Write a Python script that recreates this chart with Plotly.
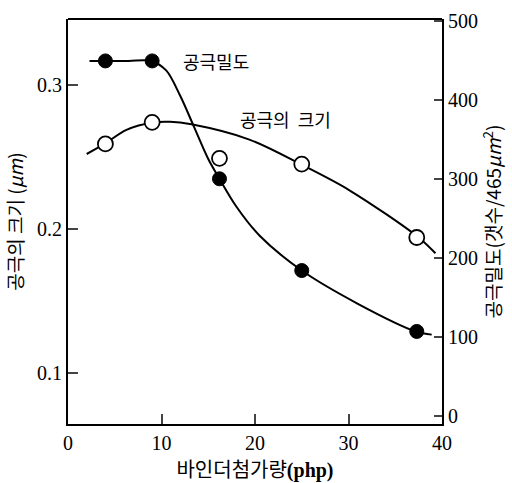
import plotly.graph_objects as go

# ---- data ----
binder_php = [4.0, 9.0, 16.2, 25.0, 37.3]           # 바인더첨가량 (php)
pore_density = [449, 449, 300, 184, 107]            # 공극밀도 (갯수/465μm²)
pore_size = [0.259, 0.274, 0.249, 0.245, 0.194]     # 공극의 크기 (μm)

density_curve_x = [2.3, 4.1, 6.5, 8.9, 10.5, 12.0, 13.5, 15.0, 16.2, 18.0, 20.5, 25.0, 31.0, 37.2, 38.9]
density_curve_y = [449, 449, 449, 449, 437, 405, 365, 325, 300, 265, 228, 184, 142, 107, 103]

size_curve_x = [2.0, 3.9, 6.25, 9.1, 10.9, 13.2, 19.4, 25.0, 30.1, 37.5, 39.3]
size_curve_y = [0.252, 0.259, 0.2688, 0.2739, 0.2744, 0.2726, 0.262, 0.2445, 0.2268, 0.194, 0.183]

x_ticks = [0, 10, 20, 30, 40]
left_ticks = [0.1, 0.2, 0.3]
right_ticks = [0, 100, 200, 300, 400, 500]

KR = "Noto Sans CJK KR"
SERIF = "Liberation Serif"

fig = go.Figure()

fig.add_trace(go.Scatter(x=size_curve_x, y=size_curve_y, mode="lines",
                         line=dict(color="black", width=2, shape="spline", smoothing=0.9),
                         yaxis="y", hoverinfo="skip", showlegend=False))
fig.add_trace(go.Scatter(x=density_curve_x, y=density_curve_y, mode="lines",
                         line=dict(color="black", width=2, shape="spline", smoothing=0.9),
                         yaxis="y2", hoverinfo="skip", showlegend=False))
fig.add_trace(go.Scatter(x=binder_php, y=pore_size, mode="markers",
                         marker=dict(size=15, color="white", line=dict(color="black", width=1.8)),
                         yaxis="y", showlegend=False))
fig.add_trace(go.Scatter(x=binder_php, y=pore_density, mode="markers",
                         marker=dict(size=14, color="black", line=dict(color="black", width=1)),
                         yaxis="y2", showlegend=False))

fig.update_layout(
    width=512, height=483,
    margin=dict(l=68, r=70, t=10, b=59),
    plot_bgcolor="white", paper_bgcolor="white",
    font=dict(family=KR, color="black"),
    xaxis=dict(range=[0, 40], tickvals=x_ticks, ticks="inside", ticklen=10, tickwidth=1.5,
               showline=True, linecolor="black", linewidth=1.8, showgrid=False, zeroline=False,
               tickfont=dict(family=SERIF, size=20, color="black"),
               title=dict(text='바인더첨가량<span style="font-family:Liberation Serif"><b>(php)</b></span>',
                          font=dict(family=KR, size=20, color="black"), standoff=3)),
    yaxis=dict(range=[0.0644, 0.3458], tickvals=left_ticks, tickformat=".1f",
               ticks="inside", ticklen=10, tickwidth=1.5,
               showline=True, linecolor="black", linewidth=1.8, showgrid=False, zeroline=False,
               tickfont=dict(family=SERIF, size=20, color="black"),
               title=dict(text="공극의 크기 (<i>μm</i>)", font=dict(family=KR, size=19, color="black"), standoff=8)),
    yaxis2=dict(range=[-10, 502], tickvals=right_ticks, overlaying="y", side="right",
                ticks="inside", ticklen=8, tickwidth=1.5,
                showline=True, linecolor="black", linewidth=1.8, showgrid=False, zeroline=False,
                tickfont=dict(family=SERIF, size=20, color="black"),
                title=dict(text="공극밀도(갯수/465<i>μm</i><sup>2</sup>)", font=dict(family=KR, size=19, color="black"), standoff=8)),
    shapes=[dict(type="line", xref="paper", yref="paper", x0=0, x1=1, y0=1, y1=1,
                 line=dict(color="black", width=1.8))],
    annotations=[
        dict(text="공극밀도", xref="paper", yref="paper", x=0.397, y=0.896, showarrow=False,
             xanchor="center", yanchor="middle", font=dict(family=KR, size=18, color="black")),
        dict(text="공극의  크기", xref="paper", yref="paper", x=0.582, y=0.754, showarrow=False,
             xanchor="center", yanchor="middle", font=dict(family=KR, size=18, color="black")),
    ],
)

fig.write_html("out.html")
